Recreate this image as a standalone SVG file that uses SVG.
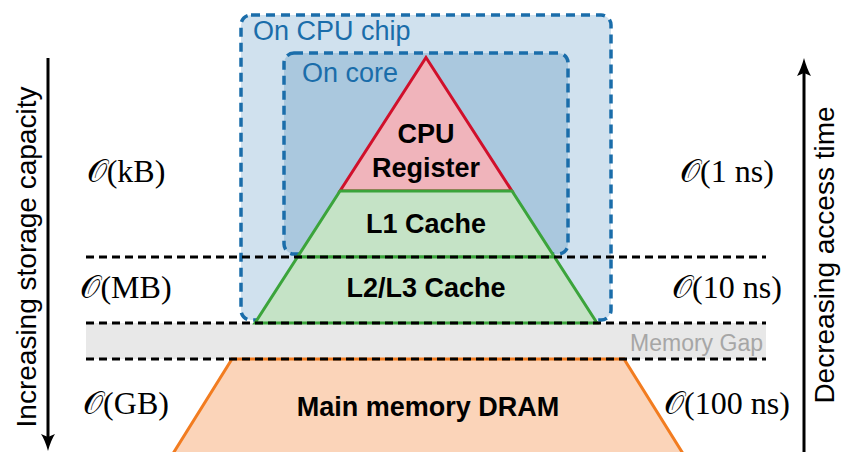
<svg xmlns="http://www.w3.org/2000/svg" width="842" height="452" viewBox="0 0 842 452">
<style>
.box{stroke:#1a6daa;stroke-width:3.5;stroke-dasharray:9 6}
.blue{fill:#1a6daa;font-family:"Liberation Sans",Arial,sans-serif;font-size:27px}
.bold{font-family:"Liberation Sans",Arial,sans-serif;font-weight:bold;font-size:27px;fill:#000;text-anchor:middle}
.math{font-family:"Liberation Serif","Times New Roman",serif;font-size:32px;fill:#000;text-anchor:middle}
.axis{font-family:"Liberation Sans",Arial,sans-serif;font-size:28px;fill:#000;text-anchor:middle}
.dash{stroke:#000;stroke-width:3;stroke-dasharray:8 5;fill:none}
.arr{stroke:#000;stroke-width:3;fill:none}
</style>
<g id="chip">
<rect x="241" y="15" width="370" height="305" rx="10" fill="#d0e1ee" class="box"/>
<text class="blue" x="253" y="40">On CPU chip</text>
</g>
<g id="core">
<rect x="284" y="53" width="284" height="201" rx="10" fill="#aac8de" class="box"/>
<text class="blue" x="302" y="82">On core</text>
</g>
<g id="gap">
<rect x="86" y="323" width="680" height="36" fill="#e8e8e8"/>
<text x="763" y="351" font-family="Liberation Sans,Arial,sans-serif" font-size="23" fill="#a6a6a6" text-anchor="end">Memory Gap</text>
</g>
<g id="register">
<polygon points="426,57.5 512,191 340,191" fill="#f0b4bb" stroke="#d0102b" stroke-width="3" stroke-linejoin="miter"/>
<text class="bold" x="426" y="143" font-size="26">CPU</text>
<text class="bold" x="426" y="177" font-size="26">Register</text>
</g>
<g id="l1">
<polygon points="340,191 512,191 554.5,257 297.5,257" fill="#c5e3c6" stroke="#3ba43b" stroke-width="3"/>
<text class="bold" x="426" y="233">L1 Cache</text>
</g>
<g id="l23">
<polygon points="297.5,257 554.5,257 597,323 255,323" fill="#c5e3c6" stroke="#3ba43b" stroke-width="3"/>
<text class="bold" x="426" y="297" font-size="28">L2/L3 Cache</text>
</g>
<g id="dram">
<polygon points="232,359 624,359 687,460 169,460" fill="#fbd4b9" stroke="#f27c20" stroke-width="3"/>
<text class="bold" x="428" y="416" font-size="28">Main memory DRAM</text>
</g>
<g id="connectors">
<line class="dash" x1="86" y1="257" x2="766" y2="257"/>
<line class="dash" x1="86" y1="323" x2="766" y2="323"/>
<line class="dash" x1="86" y1="359" x2="766" y2="359"/>
<line class="arr" x1="48" y1="58" x2="48" y2="440"/>
<path d="M48,451 Q45,440 41,434 L48,437 L55,434 Q51,440 48,451 Z" fill="#000"/>
<line class="arr" x1="804" y1="455" x2="804" y2="70"/>
<path d="M804,58 Q807,69 811,76 L804,73 L797,76 Q801,69 804,58 Z" fill="#000"/>
</g>
<g id="labels">
<text class="math" x="126" y="182"><tspan>𝒪</tspan>(kB)</text>
<text class="math" x="126" y="298"><tspan>𝒪</tspan>(MB)</text>
<text class="math" x="126" y="414"><tspan>𝒪</tspan>(GB)</text>
<text class="math" x="727" y="182"><tspan>𝒪</tspan>(1 ns)</text>
<text class="math" x="727" y="298"><tspan>𝒪</tspan>(10 ns)</text>
<text class="math" x="727" y="414"><tspan>𝒪</tspan>(100 ns)</text>
<text class="axis" transform="translate(36,257) rotate(-90)">Increasing storage capacity</text>
<text class="axis" transform="translate(834,255) rotate(-90)">Decreasing access time</text>
</g>
</svg>
